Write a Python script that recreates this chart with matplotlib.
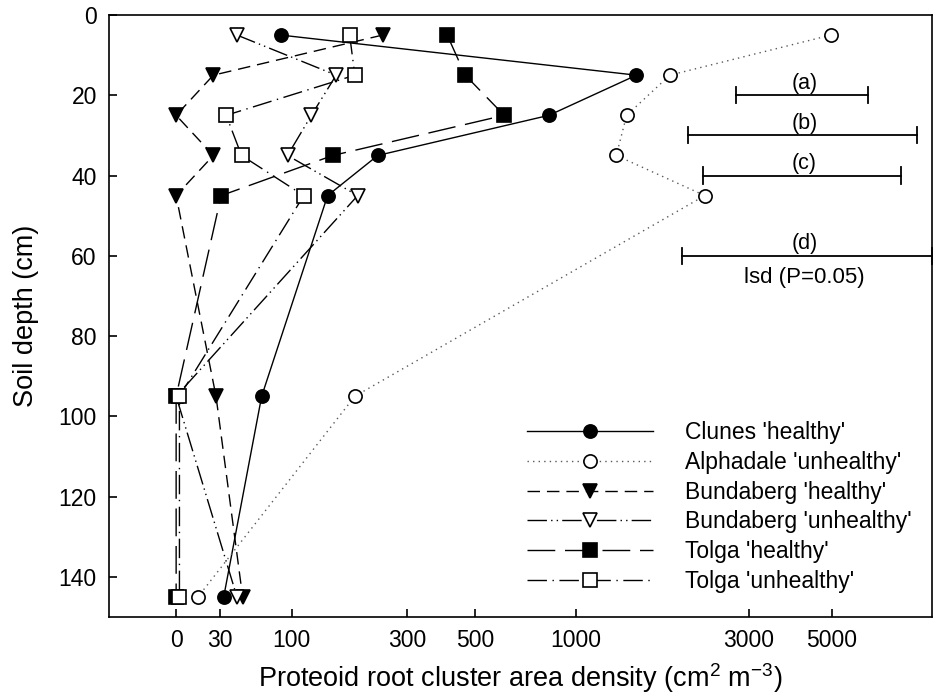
import numpy as np
import matplotlib
matplotlib.use("Agg")
import matplotlib.pyplot as plt

plt.rcParams['font.family'] = ['Liberation Sans', 'DejaVu Sans']
plt.rcParams['mathtext.default'] = 'regular'

depth = [5, 15, 25, 35, 45, 95, 145]

clunes_h = [87, 1480, 835, 235, 148, 67, 33]
alphadale_u = [4970, 1830, 1390, 1300, 2280, 192, 14]
bundaberg_h = [245, 25, 0, 25, 0, 27, 49]
bundaberg_u = [44, 161, 125, 95, 197, 0, 44]
tolga_h = [408, 466, 615, 156, 31, 0, 0]
tolga_u = [183, 192, 35, 48, 115, 2, 2]

# lsd bars
lsd_labels = ['(a)', '(b)', '(c)', '(d)']
lsd_left = [2770, 2050, 2260, 1975]
lsd_right = [6250, 8390, 7630, 9200]
lsd_depth = [20, 30, 40, 60]
lsd_text_x = 4230

xticks = [0, 30, 100, 300, 500, 1000, 3000, 5000]
yticks = [0, 20, 40, 60, 80, 100, 120, 140]

OFFSET = 100.0


def fwd(x):
    return np.log10(np.maximum(np.asarray(x, dtype=float) + OFFSET, 1e-6))


def inv(y):
    return 10 ** np.asarray(y, dtype=float) - OFFSET


fig = plt.figure(figsize=(9.33, 6.97), dpi=100)
ax = fig.add_axes([0.1172, 0.1148, 0.8818, 0.8637])
ax.set_xscale('function', functions=(fwd, inv))

ms = 9.5
lw = 1.0
series = [
    (clunes_h, "Clunes 'healthy'", 'o', 'black', dict(linestyle='-')),
    (alphadale_u, "Alphadale 'unhealthy'", 'o', 'white', dict(linestyle=(0, (1, 3)), color='0.35')),
    (bundaberg_h, "Bundaberg 'healthy'", 'v', 'black', dict(linestyle=(0, (9, 5)))),
    (bundaberg_u, "Bundaberg 'unhealthy'", 'v', 'white', dict(linestyle=(0, (14, 3, 1, 3, 1, 3)))),
    (tolga_h, "Tolga 'healthy'", 's', 'black', dict(linestyle=(0, (20, 7)))),
    (tolga_u, "Tolga 'unhealthy'", 's', 'white', dict(linestyle=(0, (14, 4, 1, 4)))),
]

handles = []
for vals, label, marker, face, style in series:
    color = style.pop('color', 'black')
    ax.plot(vals, depth, lw=lw, color=color, **style)
    ax.plot(vals, depth, linestyle='none', marker=marker, ms=ms,
            mfc=face, mec='black', mew=1.2)
    h, = ax.plot([], [], lw=lw, color=color, marker=marker, ms=ms,
                 mfc=face, mec='black', mew=1.2, label=label, **style)
    handles.append(h)

# least significant difference bars
for lab, lo, hi, d in zip(lsd_labels, lsd_left, lsd_right, lsd_depth):
    ax.plot([lo, hi], [d, d], color='black', lw=1.3, clip_on=False)
    ax.plot([lo, lo], [d - 2, d + 2], color='black', lw=1.3, clip_on=False)
    ax.plot([hi, hi], [d - 2, d + 2], color='black', lw=1.3, clip_on=False)
    ax.text(lsd_text_x, d - 0.4, lab, ha='center', va='bottom', fontsize=15.5)
ax.text(lsd_text_x, 65.5, 'lsd (P=0.05)', ha='center', va='center', fontsize=16)

ax.set_xlim(-33, 9200)
ax.set_ylim(150, 0)
ax.set_xticks(xticks)
ax.set_xticklabels([str(t) for t in xticks])
ax.set_yticks(yticks)
ax.tick_params(direction='in', length=6, width=1.2, labelsize=16.5, pad=9)
for s in ax.spines.values():
    s.set_linewidth(1.2)

ax.set_xlabel('Proteoid root cluster area density (cm$^{2}$ m$^{-3}$)', fontsize=19.5, labelpad=6)
ax.set_ylabel('Soil depth (cm)', fontsize=19.5, labelpad=14)

ax.legend(handles=handles, loc='center left', bbox_to_anchor=(527 / 933, 1 - 507 / 697),
          bbox_transform=fig.transFigure, frameon=False, fontsize=16.5, numpoints=1,
          handlelength=5.5, handletextpad=1.4, labelspacing=0.3, borderpad=0,
          borderaxespad=0)

fig.savefig('out.png', dpi=100)
